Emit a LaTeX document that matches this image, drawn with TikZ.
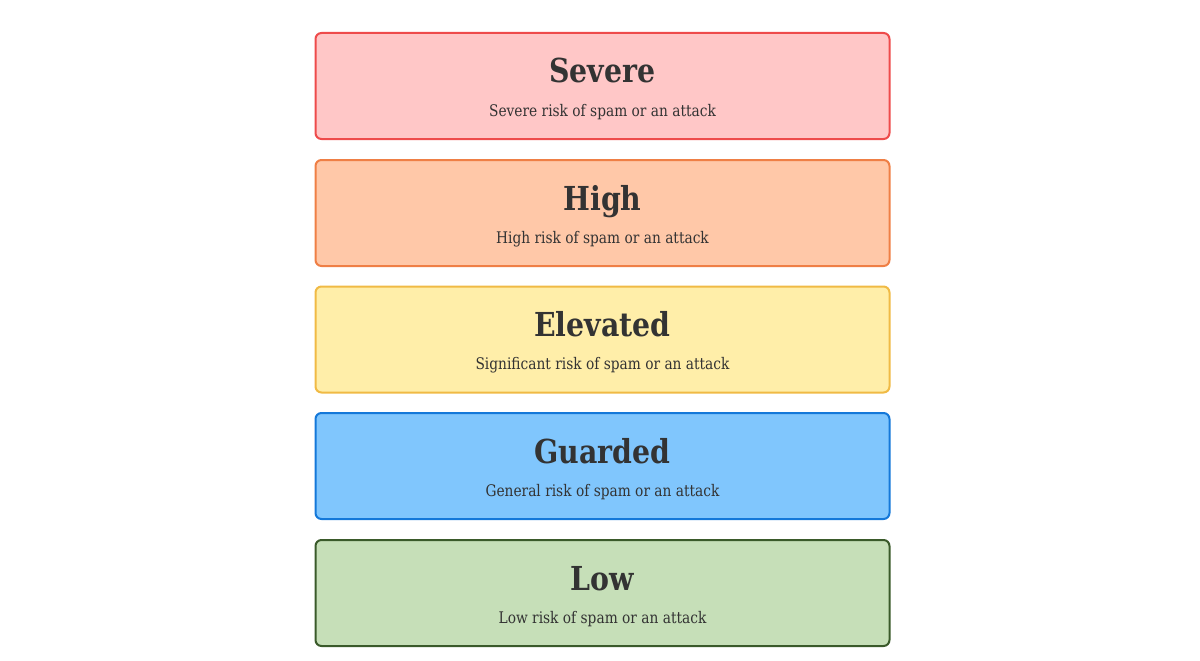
\documentclass[tikz,border=0pt]{standalone}
\usepackage{fontspec}
\setmainfont{DejaVu Serif}[FakeStretch=0.86]
\usetikzlibrary{positioning}

\definecolor{inkgray}{HTML}{333333}
\definecolor{severefill}{HTML}{FFC7C7}
\definecolor{severeline}{HTML}{EE4B4B}
\definecolor{highfill}{HTML}{FFC8A8}
\definecolor{highline}{HTML}{EF7F45}
\definecolor{elevfill}{HTML}{FFEEA9}
\definecolor{elevline}{HTML}{F0BA45}
\definecolor{guardfill}{HTML}{80C6FD}
\definecolor{guardline}{HTML}{1478D9}
\definecolor{lowfill}{HTML}{C6DFB8}
\definecolor{lowline}{HTML}{3A5A2A}

\tikzset{
  level/.style={rectangle, rounded corners=6pt, line width=2pt,
    minimum width=574pt, minimum height=106pt, inner sep=0pt},
  leveltitle/.style={anchor=base, text=inkgray, font=\fontsize{33}{38}\selectfont\bfseries},
  levelnote/.style={anchor=base, text=inkgray, font=\fontsize{16}{19}\selectfont}
}

\begin{document}
\begin{tikzpicture}[x=1pt, y=-1pt]
		\useasboundingbox (0, 0) rectangle (1200, 661);

		% the five threat levels, top to bottom
		\node [level, fill=severefill, draw=severeline] (severe) at (602.5, 86) {};
		\node [leveltitle] (severet) at (602.5, 83) {Severe};
		\node [levelnote] (severen) at (602.5, 116) {Severe risk of spam or an attack};

		\node [level, fill=highfill, draw=highline] (high) at (602.5, 213) {};
		\node [leveltitle] (hight) at (602.5, 210) {High};
		\node [levelnote] (highn) at (602.5, 243) {High risk of spam or an attack};

		\node [level, fill=elevfill, draw=elevline] (elevated) at (602.5, 339.5) {};
		\node [leveltitle] (elevatedt) at (602.5, 336.5) {Elevated};
		\node [levelnote] (elevatedn) at (602.5, 369.5) {Significant risk of spam or an attack};

		\node [level, fill=guardfill, draw=guardline] (guarded) at (602.5, 466) {};
		\node [leveltitle] (guardedt) at (602.5, 463) {Guarded};
		\node [levelnote] (guardedn) at (602.5, 496) {General risk of spam or an attack};

		\node [level, fill=lowfill, draw=lowline] (low) at (602.5, 593) {};
		\node [leveltitle] (lowt) at (602.5, 590) {Low};
		\node [levelnote] (lown) at (602.5, 623) {Low risk of spam or an attack};
	\end{tikzpicture}
\end{document}
